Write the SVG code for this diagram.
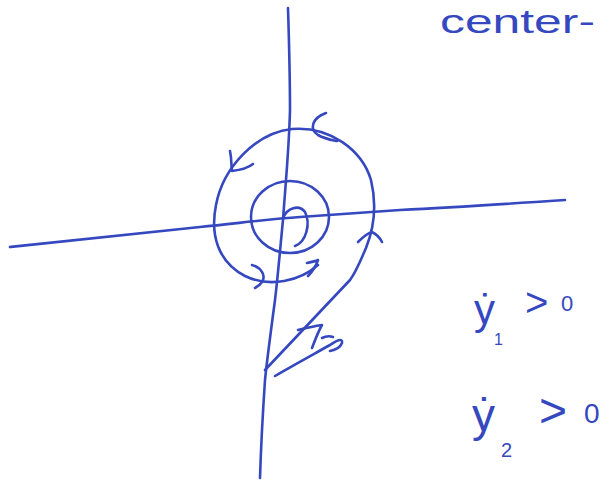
<svg xmlns="http://www.w3.org/2000/svg" width="609" height="481" viewBox="0 0 609 481">
<style>
.s{fill:none;stroke:#3548bf;stroke-width:2.6;stroke-linecap:round;stroke-linejoin:round}
.t{fill:#3548bf;font-family:"Liberation Sans","DejaVu Sans",sans-serif}
</style>
<rect width="609" height="481" fill="#fff"/>
<g id="axes">
<path class="s" d="M288 8 C289 40 290 80 290 110 C289 150 285 190 283 220 C280 250 278 275 275 300 C271 330 267 360 265 380 C263 410 261 445 260 478"/>
<path class="s" d="M10 247 C80 240 150 232 200 227 C240 223 270 219 300 217 C340 214 370 212 400 210 C460 207 520 203 565 200"/>
</g>
<g id="trajectories">
<ellipse class="s" cx="290" cy="217" rx="39" ry="36"/>
<path class="s" d="M283 218 C287 208 299 204 305 212 C311 224 306 242 295 246"/>
<path class="s" d="M318 265 C300 281 270 288 245 276 C218 262 210 235 216 205 C223 168 255 133 292 129 C330 126 362 150 371 180 C377 205 374 228 366 248 C360 262 356 272 350 280 L265 370"/>
<path class="s" d="M326 113 C312 118 309 129 318 135 C325 139 332 140 337 141"/>
<path class="s" d="M230 151 C232 160 231 166 232 171 C240 170 248 168 253 164"/>
<path class="s" d="M252 265 C262 268 266 276 262 282 C260 285 257 287 255 288"/>
<path class="s" d="M307 263 C312 262 316 261 318 260 C316 266 312 272 308 276"/>
<path class="s" d="M358 242 C362 238 368 233 372 232 C376 234 380 238 382 242"/>
<path class="s" d="M298 330 C306 328 315 326 322 325 C318 332 315 340 312 348"/>
<path class="s" d="M275 376 C292 366 314 354 330 345 C336 341 343 337 342 343 C340 348 335 350 330 351"/>
<path class="s" d="M322 338 C326 336 330 336 333 337"/>
</g>
<g id="labels">
<text class="t" x="440" y="33" font-size="34" textLength="155" lengthAdjust="spacingAndGlyphs">center-</text>
<text class="t" x="474" y="324" font-size="42">ẏ</text>
<text class="t" x="494" y="345" font-size="16">1</text>
<text class="t" x="525" y="316" font-size="40">&gt;</text>
<text class="t" x="561" y="311" font-size="22">0</text>
<text class="t" x="472" y="431" font-size="46">ẏ</text>
<text class="t" x="501" y="457" font-size="20">2</text>
<text class="t" x="539" y="427" font-size="48">&gt;</text>
<text class="t" x="584" y="423" font-size="28">0</text>
</g>
</svg>
